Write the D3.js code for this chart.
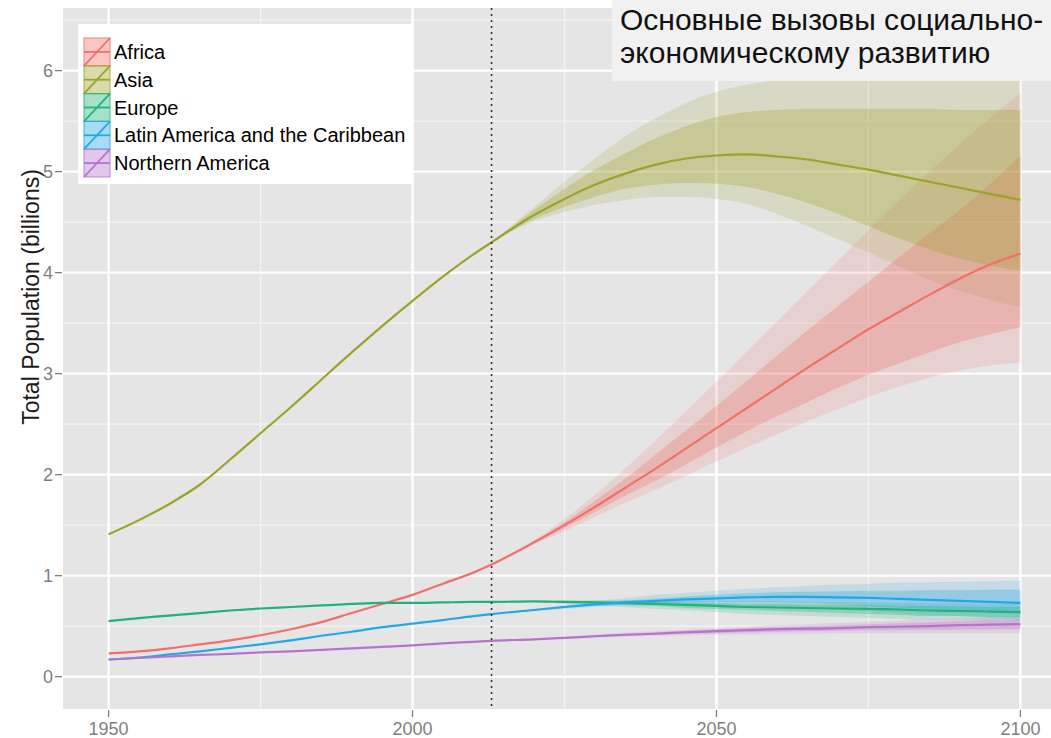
<!DOCTYPE html>
<html>
<head>
<meta charset="utf-8">
<script src="https://cdn.jsdelivr.net/npm/d3@7"></script>
<style>
  html, body { margin: 0; padding: 0; background: #ffffff; }
  svg { display: block; font-family: "Liberation Sans", Arial, sans-serif; }
</style>
</head>
<body>
<svg id="chart" width="1051" height="738"></svg>
<script>
// ---------------- DATA ----------------
const years = [1950,1955,1960,1965,1970,1975,1980,1985,1990,1995,2000,2005,2010,2013,2020,2025,2030,2035,2040,2045,2050,2055,2060,2065,2070,2075,2080,2085,2090,2095,2100];
const projYears = [2013,2020,2025,2030,2035,2040,2045,2050,2055,2060,2065,2070,2075,2080,2085,2090,2095,2100];

const regions = ["Africa","Asia","Europe","Latin America and the Caribbean","Northern America"];
const colors = ["#f0706a","#9da22a","#1fb27a","#22a8e4","#b872cc"];

const africaMedian = [0.23,0.25,0.28,0.32,0.36,0.41,0.47,0.54,0.63,0.72,0.81,0.92,1.03,1.11,1.33,1.50,1.68,1.87,2.06,2.26,2.46,2.66,2.86,3.06,3.25,3.44,3.61,3.78,3.94,4.08,4.19];
const asiaMedian   = [1.41,1.55,1.71,1.90,2.15,2.41,2.67,2.94,3.21,3.47,3.72,3.96,4.18,4.30,4.57,4.73,4.87,4.98,5.07,5.13,5.16,5.17,5.15,5.12,5.07,5.02,4.96,4.90,4.84,4.78,4.72];
const europeMedian = [0.55,0.58,0.605,0.63,0.655,0.675,0.69,0.705,0.72,0.73,0.73,0.735,0.74,0.74,0.745,0.74,0.735,0.73,0.72,0.71,0.70,0.69,0.685,0.68,0.675,0.67,0.665,0.655,0.65,0.645,0.64];
const latinMedian  = [0.17,0.19,0.22,0.25,0.285,0.32,0.36,0.405,0.445,0.49,0.525,0.56,0.60,0.62,0.66,0.69,0.715,0.735,0.75,0.765,0.775,0.785,0.79,0.79,0.785,0.78,0.77,0.76,0.75,0.74,0.73];
const nAmerMedian  = [0.17,0.185,0.20,0.215,0.225,0.24,0.25,0.265,0.28,0.295,0.31,0.33,0.345,0.355,0.37,0.385,0.40,0.415,0.425,0.44,0.45,0.46,0.47,0.475,0.48,0.49,0.495,0.50,0.51,0.515,0.52];

const africaLo95 = [1.11,1.31,1.44,1.58,1.72,1.85,1.99,2.13,2.27,2.40,2.53,2.65,2.77,2.87,2.96,3.03,3.08,3.11];
const africaLo80 = [1.11,1.32,1.47,1.63,1.79,1.94,2.10,2.27,2.43,2.58,2.72,2.86,2.99,3.10,3.21,3.31,3.39,3.46];
const africaHi80 = [1.11,1.34,1.53,1.74,1.96,2.20,2.44,2.68,2.93,3.18,3.43,3.67,3.91,4.15,4.39,4.62,4.88,5.16];
const africaHi95 = [1.11,1.35,1.56,1.80,2.06,2.34,2.63,2.92,3.22,3.52,3.82,4.12,4.42,4.72,5.00,5.27,5.53,5.78];

const asiaLo95 = [4.30,4.51,4.60,4.67,4.72,4.75,4.75,4.73,4.68,4.58,4.46,4.33,4.20,4.06,3.93,3.82,3.73,3.66];
const asiaLo80 = [4.30,4.53,4.65,4.75,4.83,4.87,4.89,4.88,4.85,4.78,4.69,4.58,4.46,4.34,4.23,4.14,4.07,4.02];
const asiaHi80 = [4.30,4.62,4.83,5.02,5.18,5.33,5.45,5.54,5.59,5.61,5.62,5.62,5.62,5.62,5.62,5.61,5.61,5.61];
const asiaHi95 = [4.30,4.65,4.90,5.13,5.35,5.53,5.68,5.79,5.86,5.91,5.95,5.97,5.99,6.00,6.01,6.02,6.03,6.04];

const europeLo95 = [0.74,0.74,0.72,0.71,0.69,0.67,0.66,0.64,0.62,0.61,0.60,0.59,0.58,0.57,0.56,0.56,0.55,0.55];
const europeLo80 = [0.74,0.74,0.73,0.72,0.71,0.70,0.68,0.67,0.66,0.65,0.64,0.63,0.62,0.61,0.60,0.60,0.59,0.59];
const europeHi80 = [0.74,0.75,0.75,0.75,0.745,0.74,0.735,0.73,0.72,0.72,0.715,0.71,0.71,0.70,0.70,0.695,0.69,0.69];
const europeHi95 = [0.74,0.75,0.76,0.76,0.76,0.76,0.755,0.75,0.75,0.745,0.74,0.74,0.735,0.73,0.73,0.725,0.72,0.72];

const latinLo95 = [0.62,0.65,0.67,0.69,0.70,0.71,0.71,0.71,0.70,0.69,0.68,0.66,0.65,0.63,0.61,0.60,0.58,0.56];
const latinLo80 = [0.62,0.655,0.68,0.70,0.715,0.725,0.735,0.74,0.74,0.735,0.73,0.715,0.70,0.685,0.67,0.655,0.64,0.62];
const latinHi80 = [0.62,0.665,0.70,0.73,0.755,0.775,0.795,0.81,0.825,0.835,0.84,0.845,0.85,0.85,0.855,0.855,0.86,0.86];
const latinHi95 = [0.62,0.67,0.71,0.75,0.78,0.81,0.83,0.85,0.87,0.885,0.90,0.91,0.92,0.93,0.935,0.94,0.945,0.95];

const nAmerLo95 = [0.355,0.365,0.375,0.385,0.395,0.405,0.41,0.415,0.42,0.42,0.425,0.43,0.43,0.43,0.43,0.43,0.43,0.43];
const nAmerLo80 = [0.355,0.367,0.38,0.392,0.405,0.415,0.425,0.43,0.44,0.445,0.45,0.455,0.46,0.46,0.465,0.465,0.47,0.47];
const nAmerHi80 = [0.355,0.373,0.39,0.408,0.425,0.44,0.455,0.47,0.48,0.49,0.50,0.51,0.52,0.53,0.54,0.55,0.555,0.56];
const nAmerHi95 = [0.355,0.375,0.395,0.415,0.435,0.45,0.465,0.48,0.495,0.51,0.52,0.535,0.545,0.555,0.565,0.575,0.585,0.60];

const xTicks = [1950, 2000, 2050, 2100];
const xMinorTicks = [1975, 2025, 2075];
const yTicks = [0, 1, 2, 3, 4, 5, 6];
const yMinorTicks = [0.5, 1.5, 2.5, 3.5, 4.5, 5.5, 6.5];
const baseYear = 2013;
const yAxisTitle = "Total Population (billions)";
const noteLines = ["Основные вызовы социально-", "экономическому развитию"];

// ---------------- BUILD ----------------
const medians = [africaMedian, asiaMedian, europeMedian, latinMedian, nAmerMedian];
const lo95 = [africaLo95, asiaLo95, europeLo95, latinLo95, nAmerLo95];
const lo80 = [africaLo80, asiaLo80, europeLo80, latinLo80, nAmerLo80];
const hi80 = [africaHi80, asiaHi80, europeHi80, latinHi80, nAmerHi80];
const hi95 = [africaHi95, asiaHi95, europeHi95, latinHi95, nAmerHi95];

const series = regions.map((name, i) => ({
  name, color: colors[i],
  line: years.map((yr, j) => ({ x: yr, y: medians[i][j] })),
  band95: projYears.map((yr, j) => ({ x: yr, lo: lo95[i][j], hi: hi95[i][j] })),
  band80: projYears.map((yr, j) => ({ x: yr, lo: lo80[i][j], hi: hi80[i][j] }))
}));

const svg = d3.select("#chart");
const panel = { left: 63, right: 1066, top: 8, bottom: 709 };

const x = d3.scaleLinear().domain([1942.5, 2107.5]).range([panel.left, panel.right]);
const y = d3.scaleLinear().domain([-0.32, 6.62]).range([panel.bottom, panel.top]);

svg.append("defs").append("clipPath").attr("id", "clip")
  .append("rect").attr("x", panel.left).attr("y", panel.top)
  .attr("width", panel.right - panel.left).attr("height", panel.bottom - panel.top);

// panel background
svg.append("rect").attr("x", panel.left).attr("y", panel.top)
  .attr("width", panel.right - panel.left).attr("height", panel.bottom - panel.top)
  .attr("fill", "#e5e5e5");

const grid = svg.append("g").attr("clip-path", "url(#clip)");
grid.selectAll(".ymin").data(yMinorTicks).join("line")
  .attr("x1", panel.left).attr("x2", panel.right)
  .attr("y1", d => y(d)).attr("y2", d => y(d))
  .attr("stroke", "#f3f3f3").attr("stroke-width", 1.3);
grid.selectAll(".xmin").data(xMinorTicks).join("line")
  .attr("y1", panel.top).attr("y2", panel.bottom)
  .attr("x1", d => x(d)).attr("x2", d => x(d))
  .attr("stroke", "#f3f3f3").attr("stroke-width", 1.3);
grid.selectAll(".ymaj").data(yTicks).join("line")
  .attr("x1", panel.left).attr("x2", panel.right)
  .attr("y1", d => y(d)).attr("y2", d => y(d))
  .attr("stroke", "#ffffff").attr("stroke-width", 2.4);
grid.selectAll(".xmaj").data(xTicks).join("line")
  .attr("y1", panel.top).attr("y2", panel.bottom)
  .attr("x1", d => x(d)).attr("x2", d => x(d))
  .attr("stroke", "#ffffff").attr("stroke-width", 2.4);

const plot = svg.append("g").attr("clip-path", "url(#clip)");
const area = d3.area().curve(d3.curveMonotoneX)
  .x(d => x(d.x)).y0(d => y(d.lo)).y1(d => y(d.hi));
const line = d3.line().curve(d3.curveMonotoneX)
  .x(d => x(d.x)).y(d => y(d.y));

plot.selectAll(".b95").data(series).join("path")
  .attr("d", d => area(d.band95)).attr("fill", d => d.color).attr("fill-opacity", 0.17);
plot.selectAll(".b80").data(series).join("path")
  .attr("d", d => area(d.band80)).attr("fill", d => d.color).attr("fill-opacity", 0.3);
plot.selectAll(".ln").data(series).join("path")
  .attr("d", d => line(d.line)).attr("fill", "none")
  .attr("stroke", d => d.color).attr("stroke-width", 2.2);

// base year dotted line
plot.append("line")
  .attr("x1", x(baseYear)).attr("x2", x(baseYear))
  .attr("y1", panel.top).attr("y2", panel.bottom)
  .attr("stroke", "#333333").attr("stroke-width", 1.6)
  .attr("stroke-dasharray", "2,4");

// axes
const tickColor = "#7f7f7f";
const xAxis = svg.append("g");
xAxis.selectAll("line").data(xTicks).join("line")
  .attr("x1", d => x(d)).attr("x2", d => x(d))
  .attr("y1", panel.bottom + 1).attr("y2", panel.bottom + 8)
  .attr("stroke", tickColor).attr("stroke-width", 1.3);
xAxis.selectAll("text").data(xTicks).join("text")
  .attr("x", d => x(d)).attr("y", 735)
  .attr("text-anchor", "middle").attr("font-size", 18).attr("fill", tickColor)
  .text(d => d);

const yAxis = svg.append("g");
yAxis.selectAll("line").data(yTicks).join("line")
  .attr("x1", panel.left - 8).attr("x2", panel.left - 1)
  .attr("y1", d => y(d)).attr("y2", d => y(d))
  .attr("stroke", tickColor).attr("stroke-width", 1.3);
yAxis.selectAll("text").data(yTicks).join("text")
  .attr("x", 53).attr("y", d => y(d)).attr("dy", "0.36em")
  .attr("text-anchor", "end").attr("font-size", 18).attr("fill", tickColor)
  .text(d => d);

svg.append("text")
  .attr("transform", "translate(39,297) rotate(-90)")
  .attr("text-anchor", "middle").attr("font-size", 23).attr("fill", "#1a1a1a")
  .text(yAxisTitle);

// legend
const lg = svg.append("g");
lg.append("rect").attr("x", 78).attr("y", 24).attr("width", 334).attr("height", 160)
  .attr("fill", "#ffffff");
const keyH = 27.8, keyX = 84, keyY = 38, keyW = 26;
const items = lg.selectAll(".item").data(series).join("g")
  .attr("transform", (d, i) => `translate(${keyX},${keyY + i * keyH})`);
items.append("rect").attr("width", keyW).attr("height", keyH)
  .attr("fill", d => d.color).attr("fill-opacity", 0.4)
  .attr("stroke", d => d.color).attr("stroke-opacity", 0.7).attr("stroke-width", 1.2);
items.append("line").attr("x1", 0).attr("x2", keyW).attr("y1", keyH / 2).attr("y2", keyH / 2)
  .attr("stroke", d => d.color).attr("stroke-width", 1.8);
items.append("line").attr("x1", 0).attr("x2", keyW).attr("y1", keyH).attr("y2", 0)
  .attr("stroke", d => d.color).attr("stroke-width", 1.8);
items.append("text").attr("x", keyW + 4).attr("y", keyH / 2).attr("dy", "0.36em")
  .attr("font-size", 20).attr("fill", "#000000")
  .text(d => d.name);

// annotation box
const note = svg.append("g");
note.append("rect").attr("x", 612).attr("y", 0).attr("width", 439).attr("height", 81)
  .attr("fill", "#f1f1f1");
note.selectAll("text").data(noteLines).join("text")
  .attr("x", 620).attr("y", (d, i) => 30 + i * 33)
  .attr("font-size", 30).attr("fill", "#111111")
  .text(d => d);
</script>
</body>
</html>
